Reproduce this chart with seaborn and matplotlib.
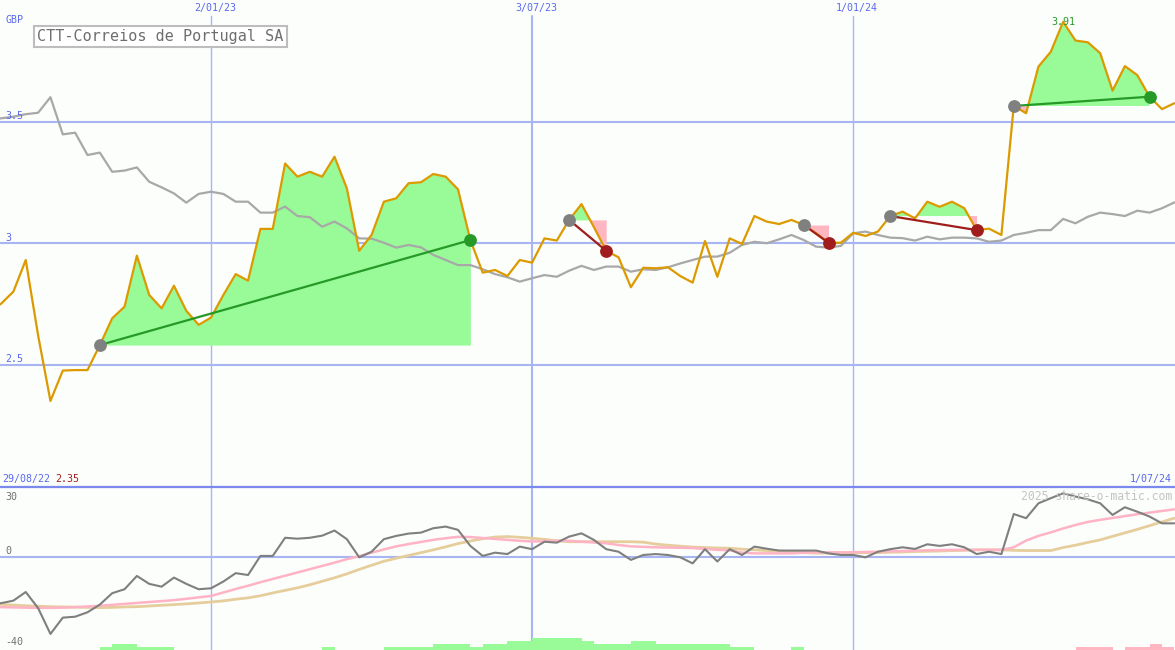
import numpy as np
import pandas as pd
import matplotlib
matplotlib.use("Agg")
import matplotlib.pyplot as plt
import seaborn as sns

# ---------------- data ----------------
start_date = "2022-08-29"
n_weeks = 97
title = "CTT-Correios de Portugal SA"
currency = "GBP"

price = [2.72, 2.75, 2.80, 2.93, 2.62, 2.35, 2.475, 2.477, 2.477, 2.58,
         2.69, 2.738, 2.948, 2.786, 2.731, 2.824, 2.721, 2.663, 2.693, 2.786,
         2.872, 2.845, 3.058, 3.058, 3.327, 3.273, 3.293, 3.273, 3.355, 3.225,
         2.968, 3.033, 3.17, 3.184, 3.246, 3.25, 3.284, 3.273, 3.221, 3.012,
         2.878, 2.889, 2.864, 2.93, 2.919, 3.019, 3.01, 3.095, 3.16, 3.066,
         2.968, 2.941, 2.818, 2.898, 2.896, 2.90, 2.864, 2.837, 3.008, 2.861,
         3.019, 2.996, 3.111, 3.088, 3.078, 3.095, 3.074, 3.04, 3.001, 3.001,
         3.042, 3.029, 3.047, 3.111, 3.129, 3.101, 3.17, 3.149, 3.17, 3.143,
         3.053, 3.059, 3.033, 3.564, 3.534, 3.726, 3.787, 3.91, 3.833, 3.826,
         3.781, 3.627, 3.728, 3.691, 3.602, 3.551, 3.575]

avg_line = [3.51, 3.513, 3.52, 3.53, 3.536, 3.60, 3.447, 3.454, 3.362, 3.372,
            3.293, 3.298, 3.311, 3.252, 3.229, 3.204, 3.166, 3.202, 3.211, 3.202,
            3.17, 3.17, 3.125, 3.125, 3.15, 3.111, 3.106, 3.067, 3.088, 3.06,
            3.019, 3.018, 3.001, 2.981, 2.992, 2.982, 2.951, 2.93, 2.909, 2.909,
            2.892, 2.872, 2.859, 2.841, 2.855, 2.868, 2.861, 2.886, 2.906, 2.889,
            2.903, 2.903, 2.882, 2.892, 2.889, 2.90, 2.916, 2.93, 2.944, 2.944,
            2.96, 2.992, 3.005, 2.999, 3.015, 3.033, 3.012, 2.985, 2.981, 2.988,
            3.04, 3.047, 3.033, 3.022, 3.02, 3.01, 3.026, 3.015, 3.022, 3.022,
            3.019, 3.005, 3.01, 3.033, 3.042, 3.053, 3.053, 3.099, 3.081, 3.108,
            3.125, 3.119, 3.111, 3.133, 3.125, 3.143, 3.167]

momentum = [-20.0, -19.9, -18.8, -15.1, -22.0, -33.1, -26.1, -25.7, -23.8, -20.5,
            -15.6, -13.9, -8.2, -11.6, -12.8, -8.9, -11.6, -13.9, -13.5, -10.6,
            -7.0, -7.8, 0.4, 0.4, 8.2, 7.8, 8.2, 9.1, 11.3, 7.6,
            -0.2, 2.2, 7.6, 9.0, 10.0, 10.4, 12.3, 13.0, 11.6, 4.7,
            0.4, 1.8, 1.2, 4.4, 3.3, 6.5, 6.1, 8.7, 10.1, 7.3,
            3.3, 2.2, -1.3, 0.8, 1.2, 0.8, -0.2, -2.8, 3.3, -2.0,
            3.3, 0.8, 4.4, 3.5, 2.7, 2.7, 2.7, 2.7, 1.5, 0.8,
            0.8, -0.2, 2.2, 3.3, 4.1, 3.4, 5.4, 4.7, 5.4, 4.1,
            1.2, 2.2, 1.2, 18.4, 16.6, 23.0, 25.2, 27.3, 25.9, 24.7,
            23.0, 18.0, 21.3, 19.4, 17.3, 14.4, 14.4]

mom_fast = [-21.5, -21.6, -21.7, -21.8, -21.9, -21.9, -21.8, -21.6, -21.3, -21.0,
            -20.6, -20.2, -19.8, -19.4, -19.0, -18.6, -18.0, -17.4, -16.8, -15.3,
            -13.8, -12.4, -10.9, -9.5, -8.1, -6.7, -5.3, -3.9, -2.5, -1.0,
            0.3, 1.8, 3.2, 4.5, 5.5, 6.4, 7.3, 8.0, 8.6, 8.5,
            8.1, 7.7, 7.3, 6.9, 6.6, 6.7, 6.9, 6.9, 6.5, 6.2,
            5.8, 5.1, 4.5, 4.3, 4.1, 4.0, 3.9, 3.8, 3.4, 3.0,
            2.8, 1.8, 1.5, 1.5, 1.5, 1.5, 1.8, 1.9, 1.9, 1.9,
            2.0, 2.1, 2.2, 2.4, 2.5, 2.7, 2.8, 2.9, 3.0, 3.0,
            3.0, 3.0, 3.0, 4.1, 7.0, 9.0, 10.5, 12.2, 13.7, 15.0,
            15.9, 16.7, 17.5, 18.3, 19.0, 19.7, 20.4]

mom_slow = [-20.2, -20.4, -20.7, -21.0, -21.2, -21.4, -21.5, -21.6, -21.7, -21.8,
            -21.7, -21.5, -21.4, -21.1, -20.8, -20.5, -20.2, -19.8, -19.4, -18.9,
            -18.2, -17.6, -16.7, -15.5, -14.4, -13.3, -12.0, -10.5, -9.0, -7.3,
            -5.4, -3.6, -1.9, -0.6, 0.6, 1.8, 3.0, 4.3, 5.7, 6.8,
            7.8, 8.5, 8.7, 8.4, 8.0, 7.5, 6.9, 6.5, 6.5, 6.5,
            6.5, 6.5, 6.5, 6.3, 5.5, 5.0, 4.6, 4.2, 4.0, 3.8,
            3.7, 3.3, 3.0, 2.7, 2.5, 2.2, 1.8, 1.6, 1.6, 1.8,
            1.8, 1.8, 1.8, 2.0, 2.1, 2.3, 2.4, 2.5, 2.7, 2.8,
            3.0, 3.0, 3.0, 2.8, 2.7, 2.7, 2.7, 4.0, 5.0, 6.2,
            7.3, 8.8, 10.3, 11.8, 13.4, 15.0, 16.6]

# trades: index of entry / exit week (0 = first week)
trade_entry_idx = [9, 47, 66, 73, 83]
trade_exit_idx = [39, 50, 68, 80, 94]

# signal bars at the bottom of the lower panel (week index, level)
up_bar_idx = [9, 10, 11, 12, 13, 14, 27, 32, 33, 34, 35, 36, 37, 38, 39, 40, 41, 42, 43,
              44, 45, 46, 47, 48, 49, 50, 51, 52, 53, 54, 55, 56, 57, 58, 59, 60, 61, 65]
up_bar_lvl = [1, 2, 2, 1, 1, 1, 1, 1, 1, 1, 1, 2, 2, 2, 1, 2, 2, 3, 3,
              4, 4, 4, 4, 3, 2, 2, 2, 3, 3, 2, 2, 2, 2, 2, 2, 1, 1, 1]
down_bar_idx = [88, 89, 90, 92, 93, 94, 95]
down_bar_lvl = [1, 1, 1, 1, 1, 2, 1]

tick_dates = ["2023-01-02", "2023-07-03", "2024-01-01"]
tick_labels = ["2/01/23", "3/07/23", "1/01/24"]
main_levels = [2.5, 3.0, 3.5]
main_level_labels = ["2.5", "3", "3.5"]
end_label = "1/07/24"
start_label = "29/08/22"

# ---------------- style ----------------
W, H = 1175, 650
BG = "#fbfefb"
GRID = "#a9b5f2"
BLUE_TXT = "#5a68ee"
ORANGE = "#dc9a00"
GRAY_LINE = "#a8a8a8"
GREEN_FILL = "#98fb98"
PINK_FILL = "#ffb6c1"
GREEN = "#269a26"
DARKRED = "#a11d1d"

sns.set_theme(style="white")
plt.rcParams["font.family"] = ["DejaVu Sans Mono", "DejaVu Sans"]

dates = pd.date_range(start_date, periods=n_weeks, freq="7D")
ref = pd.Timestamp(tick_dates[0])
x = np.asarray((dates - ref).days / 7.0)
p = np.asarray(price)

px_per_week = 12.35
x_left = -211 / px_per_week
x_right = (W - 211) / px_per_week

fig = plt.figure(figsize=(W / 100, H / 100), dpi=100, facecolor=BG)
ax = fig.add_axes([0, 1 - 486 / H, 1, 486 / H])
axb = fig.add_axes([0, 0, 1, 163 / H])
for a in (ax, axb):
    a.set_facecolor(BG)
    a.set_xlim(x_left, x_right)
    for s in a.spines.values():
        s.set_visible(False)
    a.set_xticks([])
    a.set_yticks([])
    a.set_xlabel("")
    a.set_ylabel("")
ax.set_ylim(2.0, 4.0)
axb.set_ylim(-40, 30)

def fx(px):
    return px / W

def fy(py):
    return 1 - py / H

# grid
for lv in main_levels:
    ax.axhline(lv, color=GRID, lw=1.5, zorder=1)
tick_x = [(pd.Timestamp(d) - ref).days / 7.0 for d in tick_dates]
vw = [1.0, 1.5, 1.0]
for tx, lab, w in zip(tick_x, tick_labels, vw):
    ax.axvline(tx, ymin=0, ymax=1 - 16 / 486, color=GRID, lw=w, zorder=1)
    axb.axvline(tx, color=GRID, lw=w, zorder=1)
    xpix = 211 + tx * px_per_week
    fig.text(fx(xpix + 4), fy(8), lab, color=BLUE_TXT, fontsize=7.2,
             ha="center", va="center")
axb.axhline(0, color=GRID, lw=1.5, zorder=1)
axb.axhline(30, color="#7b89ee", lw=1.6, zorder=5, clip_on=False)

# trade fills
for i0, i1 in zip(trade_entry_idx, trade_exit_idx):
    xs = x[i0:i1 + 1]
    ps = p[i0:i1 + 1]
    e = ps[0]
    ax.fill_between(xs, e, ps, where=ps >= e, interpolate=True,
                    color=GREEN_FILL, lw=0, zorder=2)
    ax.fill_between(xs, e, ps, where=ps < e, interpolate=True,
                    color=PINK_FILL, lw=0, zorder=2)

# main lines
sns.lineplot(x=x, y=avg_line, ax=ax, color=GRAY_LINE, lw=1.6, zorder=3, sort=False)
sns.lineplot(x=x, y=price, ax=ax, color=ORANGE, lw=1.6, zorder=4, sort=False)

# trade markers
for i0, i1 in zip(trade_entry_idx, trade_exit_idx):
    win = p[i1] > p[i0]
    c = GREEN if win else DARKRED
    sns.lineplot(x=[x[i0], x[i1]], y=[p[i0], p[i1]], ax=ax, color=c, lw=1.6,
                 zorder=5, sort=False)
    ax.scatter([x[i0]], [p[i0]], s=85, color="#808080", zorder=6, lw=0)
    ax.scatter([x[i1]], [p[i1]], s=85, color=c, zorder=6, lw=0)

# peak label
imax = int(np.argmax(p))
ax.annotate(f"{p[imax]:.2f}", (x[imax], p[imax]), xytext=(0, -3),
            textcoords="offset pixels", ha="center", va="baseline",
            color=GREEN, fontsize=7.2, zorder=7)

# lower panel
sns.lineplot(x=x, y=mom_slow, ax=axb, color="#e6cd9c", lw=2.0, zorder=3, sort=False)
sns.lineplot(x=x, y=mom_fast, ax=axb, color="#ffb3c4", lw=1.8, zorder=3, sort=False)
sns.lineplot(x=x, y=momentum, ax=axb, color="#7f7f7f", lw=1.5, zorder=4, sort=False)

lvl_unit = 3 / (163 / 70)
axb.bar(x[up_bar_idx], np.asarray(up_bar_lvl) * lvl_unit, bottom=-40, width=1.0,
        align="edge", color=GREEN_FILL, lw=0, zorder=2)
axb.bar(x[down_bar_idx], np.asarray(down_bar_lvl) * lvl_unit, bottom=-40, width=1.0,
        align="edge", color=PINK_FILL, lw=0, zorder=2)

# texts
fig.text(fx(5), fy(20), currency, color=BLUE_TXT, fontsize=7.2, ha="left", va="center")
ypix = {2.5: 359, 3.0: 238, 3.5: 116}
for lv, lab in zip(main_levels, main_level_labels):
    fig.text(fx(5), fy(ypix[lv]), lab, color=BLUE_TXT, fontsize=7.2,
             ha="left", va="center")
fig.text(fx(2), fy(479), start_label, color=BLUE_TXT, fontsize=7.2, ha="left", va="center")
fig.text(fx(55), fy(479), f"{p.min():.2f}", color=DARKRED, fontsize=7.2,
         ha="left", va="center")
fig.text(fx(1172), fy(479), end_label, color=BLUE_TXT, fontsize=7.2, ha="right", va="center")
for lab, yy in (("30", 497), ("0", 551), ("-40", 642)):
    fig.text(fx(5), fy(yy), lab, color="#707070", fontsize=7.2, ha="left", va="center")
fig.text(fx(1172), fy(496), "2025 share-o-matic.com", color="#c4c4c4", fontsize=8.3,
         ha="right", va="center", zorder=1)

fig.text(fx(37), fy(36.5), title, color="#6e6e6e", fontsize=10.9, ha="left", va="center",
         bbox=dict(boxstyle="square,pad=0.22", fc="white", ec="#bdbdbd", lw=1.5))

fig.savefig("out.png", dpi=100, facecolor=BG)
